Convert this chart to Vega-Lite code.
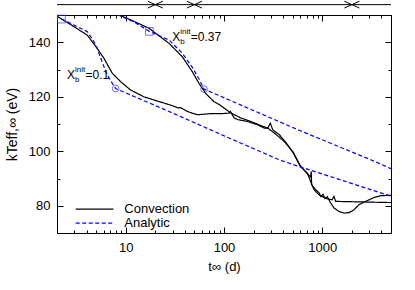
{
  "$schema": "https://vega.github.io/schema/vega-lite/v6.json",
  "width": 334,
  "height": 218,
  "autosize": {"type": "none"},
  "padding": {"left": 57, "top": 15, "right": 24, "bottom": 57},
  "background": "white",
  "config": {
    "view": {"stroke": "black", "strokeWidth": 1},
    "font": "Liberation Sans",
    "axis": {"labelFont": "Liberation Sans", "titleFont": "Liberation Sans", "labelFontSize": 13, "titleFontSize": 13, "labelColor": "black", "titleColor": "black", "tickColor": "black", "domainColor": "black", "grid": false, "titleFontWeight": "normal"}
  },
  "datasets": {
    "lines": [
      {"type": "Convection", "run": "c1", "t": 2.0, "T": 149.6},
      {"type": "Convection", "run": "c1", "t": 2.98, "T": 145.7},
      {"type": "Convection", "run": "c1", "t": 4.07, "T": 142.6},
      {"type": "Convection", "run": "c1", "t": 5.14, "T": 137.7},
      {"type": "Convection", "run": "c1", "t": 6.01, "T": 134.1},
      {"type": "Convection", "run": "c1", "t": 7.31, "T": 128.6},
      {"type": "Convection", "run": "c1", "t": 8.9, "T": 125.5},
      {"type": "Convection", "run": "c1", "t": 11.2, "T": 122.5},
      {"type": "Convection", "run": "c1", "t": 15.3, "T": 120.0},
      {"type": "Convection", "run": "c1", "t": 19.4, "T": 118.8},
      {"type": "Convection", "run": "c1", "t": 24.5, "T": 117.7},
      {"type": "Convection", "run": "c1", "t": 30.5, "T": 116.6},
      {"type": "Convection", "run": "c1", "t": 34, "T": 115.9},
      {"type": "Convection", "run": "c1", "t": 36, "T": 116.0},
      {"type": "Convection", "run": "c1", "t": 42.4, "T": 114.6},
      {"type": "Convection", "run": "c1", "t": 53.5, "T": 113.4},
      {"type": "Convection", "run": "c1", "t": 73.2, "T": 113.8},
      {"type": "Convection", "run": "c1", "t": 93.1, "T": 113.8},
      {"type": "Convection", "run": "c1", "t": 113.2, "T": 114.0},
      {"type": "Convection", "run": "c1", "t": 115.9, "T": 114.6},
      {"type": "Convection", "run": "c1", "t": 127.3, "T": 112.2},
      {"type": "Convection", "run": "c1", "t": 137.8, "T": 111.6},
      {"type": "Convection", "run": "c1", "t": 174, "T": 110.9},
      {"type": "Convection", "run": "c1", "t": 220, "T": 109.7},
      {"type": "Convection", "run": "c1", "t": 257, "T": 108.5},
      {"type": "Convection", "run": "c1", "t": 278.6, "T": 108.5},
      {"type": "Convection", "run": "c1", "t": 296, "T": 110.3},
      {"type": "Convection", "run": "c1", "t": 313, "T": 107.9},
      {"type": "Convection", "run": "c1", "t": 365, "T": 106.1},
      {"type": "Convection", "run": "c1", "t": 428, "T": 103.1},
      {"type": "Convection", "run": "c1", "t": 504, "T": 99.6},
      {"type": "Convection", "run": "c1", "t": 593, "T": 94.7},
      {"type": "Convection", "run": "c1", "t": 698, "T": 91.9},
      {"type": "Convection", "run": "c1", "t": 759, "T": 90.6},
      {"type": "Convection", "run": "c1", "t": 773, "T": 92.6},
      {"type": "Convection", "run": "c1", "t": 778, "T": 87.7},
      {"type": "Convection", "run": "c1", "t": 843, "T": 86.2},
      {"type": "Convection", "run": "c1", "t": 925, "T": 84.8},
      {"type": "Convection", "run": "c1", "t": 970, "T": 83.3},
      {"type": "Convection", "run": "c1", "t": 1016, "T": 84.2},
      {"type": "Convection", "run": "c1", "t": 1065, "T": 82.6},
      {"type": "Convection", "run": "c1", "t": 1124, "T": 83.3},
      {"type": "Convection", "run": "c1", "t": 1217, "T": 81.0},
      {"type": "Convection", "run": "c1", "t": 1315, "T": 79.2},
      {"type": "Convection", "run": "c1", "t": 1479, "T": 77.9},
      {"type": "Convection", "run": "c1", "t": 1663, "T": 77.3},
      {"type": "Convection", "run": "c1", "t": 1870, "T": 77.5},
      {"type": "Convection", "run": "c1", "t": 2100, "T": 78.5},
      {"type": "Convection", "run": "c1", "t": 2361, "T": 80.4},
      {"type": "Convection", "run": "c1", "t": 2761, "T": 81.6},
      {"type": "Convection", "run": "c1", "t": 3355, "T": 83.0},
      {"type": "Convection", "run": "c1", "t": 3926, "T": 83.7},
      {"type": "Convection", "run": "c1", "t": 4775, "T": 83.8},
      {"type": "Convection", "run": "c1", "t": 5000, "T": 83.8},
      {"type": "Convection", "run": "c2", "t": 8.5, "T": 150.1},
      {"type": "Convection", "run": "c2", "t": 12.1, "T": 147.7},
      {"type": "Convection", "run": "c2", "t": 17.3, "T": 145.1},
      {"type": "Convection", "run": "c2", "t": 27.6, "T": 139.6},
      {"type": "Convection", "run": "c2", "t": 37.6, "T": 134.7},
      {"type": "Convection", "run": "c2", "t": 47.6, "T": 129.2},
      {"type": "Convection", "run": "c2", "t": 55.7, "T": 124.9},
      {"type": "Convection", "run": "c2", "t": 65.2, "T": 121.2},
      {"type": "Convection", "run": "c2", "t": 79.1, "T": 118.2},
      {"type": "Convection", "run": "c2", "t": 88.9, "T": 117.2},
      {"type": "Convection", "run": "c2", "t": 117.8, "T": 114.0},
      {"type": "Convection", "run": "c2", "t": 148.9, "T": 112.2},
      {"type": "Convection", "run": "c2", "t": 188.4, "T": 110.9},
      {"type": "Convection", "run": "c2", "t": 237.9, "T": 109.4},
      {"type": "Convection", "run": "c2", "t": 278.6, "T": 108.5},
      {"type": "Convection", "run": "c2", "t": 325, "T": 106.7},
      {"type": "Convection", "run": "c2", "t": 410, "T": 103.6},
      {"type": "Convection", "run": "c2", "t": 500, "T": 99.9},
      {"type": "Convection", "run": "c2", "t": 603, "T": 94.4},
      {"type": "Convection", "run": "c2", "t": 703, "T": 92.0},
      {"type": "Convection", "run": "c2", "t": 824, "T": 85.9},
      {"type": "Convection", "run": "c2", "t": 925, "T": 84.0},
      {"type": "Convection", "run": "c2", "t": 1124, "T": 82.5},
      {"type": "Convection", "run": "c2", "t": 1256, "T": 82.2},
      {"type": "Convection", "run": "c2", "t": 1315, "T": 83.4},
      {"type": "Convection", "run": "c2", "t": 1368, "T": 81.6},
      {"type": "Convection", "run": "c2", "t": 4580, "T": 81.2},
      {"type": "Convection", "run": "c2", "t": 5000, "T": 81.2},
      {"type": "Analytic", "run": "a1", "t": 2.22, "T": 148.5},
      {"type": "Analytic", "run": "a1", "t": 2.98, "T": 146.3},
      {"type": "Analytic", "run": "a1", "t": 4.07, "T": 143.9},
      {"type": "Analytic", "run": "a1", "t": 4.76, "T": 140.2},
      {"type": "Analytic", "run": "a1", "t": 5.14, "T": 137.7},
      {"type": "Analytic", "run": "a1", "t": 5.57, "T": 134.1},
      {"type": "Analytic", "run": "a1", "t": 6.01, "T": 131.0},
      {"type": "Analytic", "run": "a1", "t": 6.5, "T": 128.0},
      {"type": "Analytic", "run": "a1", "t": 7.31, "T": 124.9},
      {"type": "Analytic", "run": "a1", "t": 7.91, "T": 123.0},
      {"type": "Analytic", "run": "a1", "t": 27.6, "T": 114.6},
      {"type": "Analytic", "run": "a1", "t": 117, "T": 104.6},
      {"type": "Analytic", "run": "a1", "t": 363, "T": 96.9},
      {"type": "Analytic", "run": "a1", "t": 515, "T": 95.0},
      {"type": "Analytic", "run": "a1", "t": 1480, "T": 89.7},
      {"type": "Analytic", "run": "a1", "t": 4900, "T": 83.6},
      {"type": "Analytic", "run": "a1", "t": 5000, "T": 83.5},
      {"type": "Analytic", "run": "a2", "t": 8.22, "T": 150.1},
      {"type": "Analytic", "run": "a2", "t": 12.1, "T": 147.5},
      {"type": "Analytic", "run": "a2", "t": 17.4, "T": 144.0},
      {"type": "Analytic", "run": "a2", "t": 27.6, "T": 140.8},
      {"type": "Analytic", "run": "a2", "t": 37.6, "T": 136.0},
      {"type": "Analytic", "run": "a2", "t": 47.6, "T": 130.8},
      {"type": "Analytic", "run": "a2", "t": 55.7, "T": 126.5},
      {"type": "Analytic", "run": "a2", "t": 62.7, "T": 122.8},
      {"type": "Analytic", "run": "a2", "t": 580, "T": 107.7},
      {"type": "Analytic", "run": "a2", "t": 3105, "T": 96.9},
      {"type": "Analytic", "run": "a2", "t": 5000, "T": 93.6}
    ],
    "circles": [{"t": 7.91, "T": 123.0}, {"t": 62.7, "T": 122.8}],
    "squares": [{"t": 2.22, "T": 148.5}, {"t": 17.4, "T": 144.0}],
    "labels": [{"t": 2.53, "T": 126.6, "val": "=0.1"}, {"t": 29.8, "T": 140.4, "val": "=0.37"}],
    "topline": [{"t": 2, "T": 153.8}, {"t": 5000, "T": 153.8}],
    "crosses": [{"t": 20, "T": 153.8}, {"t": 50, "T": 153.8}, {"t": 2000, "T": 153.8}]
  },
  "resolve": {"axis": {"x": "independent", "y": "independent"}},
  "layer": [
    {
      "data": {"name": "lines"},
      "mark": {"type": "line", "strokeWidth": 1.2, "clip": true},
      "encoding": {
        "x": {"field": "t", "type": "quantitative", "scale": {"type": "log", "domain": [2, 5000], "nice": false},
              "axis": {"orient": "bottom", "values": [10, 100, 1000], "format": "d", "tickSize": -6, "labelPadding": 14, "title": "t∞ (d)", "titlePadding": 6}},
        "y": {"field": "T", "type": "quantitative", "scale": {"domain": [70, 150], "nice": false, "zero": false},
              "axis": {"orient": "left", "values": [80, 100, 120, 140], "tickSize": -6, "labelPadding": 13, "title": "kTeff,∞ (eV)", "titlePadding": 9, "titleFontSize": 14}},
        "color": {"field": "type", "type": "nominal", "scale": {"domain": ["Convection", "Analytic"], "range": ["#000000", "#0000ff"]},
                  "legend": {"orient": "none", "legendX": 31.1, "legendY": 187.6, "title": null, "symbolType": "M-4,0L4,0", "symbolSize": 89, "symbolStrokeWidth": 1.2, "symbolFillColor": "transparent", "labelFontSize": 13, "labelFont": "Liberation Sans", "labelColor": "black", "labelOffset": 23.2, "rowPadding": 0, "padding": 0}},
        "strokeDash": {"field": "type", "type": "nominal", "scale": {"domain": ["Convection", "Analytic"], "range": [[1, 0], [4, 2.5]]},
                  "legend": {"orient": "none", "legendX": 31.1, "legendY": 187.6, "title": null, "symbolType": "M-4,0L4,0", "symbolSize": 89, "symbolStrokeWidth": 1.2, "symbolFillColor": "transparent", "labelFontSize": 13, "labelFont": "Liberation Sans", "labelColor": "black", "labelOffset": 23.2, "rowPadding": 0, "padding": 0}},
        "detail": {"field": "run"}
      }
    },
    {
      "data": {"name": "circles"},
      "mark": {"type": "point", "shape": "circle", "filled": false, "color": "#3333ff", "size": 45, "strokeWidth": 1},
      "encoding": {
        "x": {"field": "t", "type": "quantitative", "axis": {"orient": "top", "values": [10, 100, 1000], "labels": false, "tickSize": -6, "title": null}},
        "y": {"field": "T", "type": "quantitative", "axis": {"orient": "right", "values": [80, 100, 120, 140], "labels": false, "tickSize": -6, "title": null}}
      }
    },
    {
      "data": {"name": "squares"},
      "mark": {"type": "point", "shape": "square", "filled": false, "color": "#3333ff", "size": 60, "strokeWidth": 1},
      "encoding": {
        "x": {"field": "t", "type": "quantitative", "axis": {"orient": "bottom", "values": [2, 3, 4, 5, 6, 7, 8, 9, 20, 30, 40, 50, 60, 70, 80, 90, 200, 300, 400, 500, 600, 700, 800, 900, 2000, 3000, 4000, 5000], "labels": false, "domain": false, "tickSize": -3, "title": null}},
        "y": {"field": "T", "type": "quantitative", "axis": {"orient": "left", "values": [70, 90, 110, 130, 150], "labels": false, "domain": false, "tickSize": -3, "title": null}}
      }
    },
    {
      "data": {"name": "labels"},
      "mark": {"type": "text", "text": "X", "align": "left", "baseline": "alphabetic", "fontSize": 12, "font": "Liberation Sans", "color": "black"},
      "encoding": {
        "x": {"field": "t", "type": "quantitative", "axis": {"orient": "top", "values": [2, 3, 4, 5, 6, 7, 8, 9, 20, 30, 40, 50, 60, 70, 80, 90, 200, 300, 400, 500, 600, 700, 800, 900, 2000, 3000, 4000, 5000], "labels": false, "domain": false, "tickSize": -3, "title": null}},
        "y": {"field": "T", "type": "quantitative", "axis": {"orient": "right", "values": [70, 90, 110, 130, 150], "labels": false, "domain": false, "tickSize": -3, "title": null}}
      }
    },
    {
      "data": {"name": "labels"},
      "mark": {"type": "text", "text": "b", "align": "left", "baseline": "alphabetic", "fontSize": 8, "dx": 8, "dy": 3, "font": "Liberation Sans", "color": "black"},
      "encoding": {
        "x": {"field": "t", "type": "quantitative", "axis": null},
        "y": {"field": "T", "type": "quantitative", "axis": null}
      }
    },
    {
      "data": {"name": "labels"},
      "mark": {"type": "text", "text": "init", "align": "left", "baseline": "alphabetic", "fontSize": 8, "dx": 8, "dy": -7, "font": "Liberation Sans", "color": "black"},
      "encoding": {
        "x": {"field": "t", "type": "quantitative", "axis": null},
        "y": {"field": "T", "type": "quantitative", "axis": null}
      }
    },
    {
      "data": {"name": "labels"},
      "mark": {"type": "text", "align": "left", "baseline": "alphabetic", "fontSize": 12, "dx": 18.5, "font": "Liberation Sans", "color": "black"},
      "encoding": {
        "x": {"field": "t", "type": "quantitative", "axis": null},
        "y": {"field": "T", "type": "quantitative", "axis": null},
        "text": {"field": "val"}
      }
    },
    {
      "data": {"name": "topline"},
      "mark": {"type": "line", "color": "black", "strokeWidth": 1, "clip": false},
      "encoding": {
        "x": {"field": "t", "type": "quantitative", "axis": null},
        "y": {"field": "T", "type": "quantitative", "axis": null}
      }
    },
    {
      "data": {"name": "crosses"},
      "mark": {"type": "point", "shape": "M-1,-0.45L1,0.45M-1,0.45L1,-0.45", "filled": false, "color": "black", "size": 225, "strokeWidth": 1, "opacity": 1, "clip": false},
      "encoding": {
        "x": {"field": "t", "type": "quantitative", "axis": null},
        "y": {"field": "T", "type": "quantitative", "axis": null}
      }
    }
  ]
}
